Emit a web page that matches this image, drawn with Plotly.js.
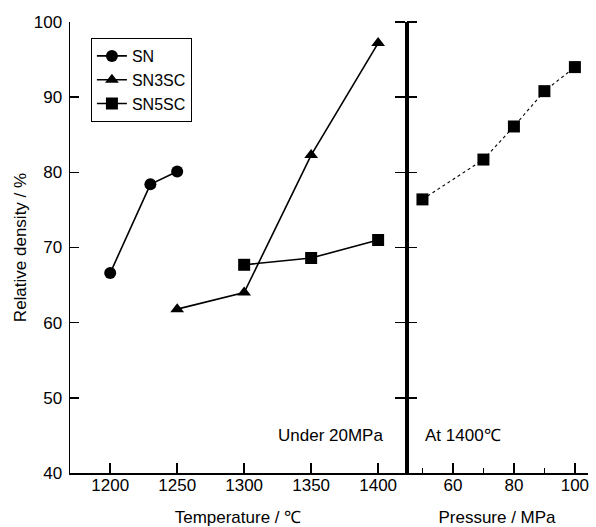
<!DOCTYPE html>
<html>
<head>
<meta charset="utf-8">
<script src="https://cdn.plot.ly/plotly-3.0.1.min.js"></script>
<style>html,body{margin:0;padding:0;background:#fff;}#chart{width:596px;height:527px;}</style>
</head>
<body>
<div id="chart"></div>
<script>
// Temperature series (under 20 MPa)
const snTemp = [1200, 1230, 1250];
const snDensity = [66.6, 78.4, 80.1];
const sn3scTemp = [1250, 1300, 1350, 1400];
const sn3scDensity = [61.8, 64.0, 82.3, 97.2];
const sn5scTemp = [1300, 1350, 1400];
const sn5scDensity = [67.7, 68.6, 71.0];
// Pressure series (at 1400 ℃)
const sn5scPressure = [50, 70, 80, 90, 100];
const sn5scPressureDensity = [76.4, 81.7, 86.1, 90.8, 94.0];

const seriesNames = ['SN', 'SN3SC', 'SN5SC'];
const tempTicks = [1200, 1250, 1300, 1350, 1400];
const pressureTicks = [60, 80, 100];
const pressureMinorTicks = [50, 70, 90];
const densityTicks = [40, 50, 60, 70, 80, 90, 100];

const FONT = 'Liberation Sans, Arial, Helvetica, sans-serif';
const FS = 17;
const split = 336 / 518;

const lineStyle = {color: '#000', width: 1.6};
const traces = [
  {x: snTemp, y: snDensity, name: seriesNames[0], mode: 'lines+markers', xaxis: 'x', yaxis: 'y',
   line: lineStyle, marker: {symbol: 'circle', size: 12, color: '#000'}},
  {x: sn3scTemp, y: sn3scDensity, name: seriesNames[1], mode: 'lines+markers', xaxis: 'x', yaxis: 'y',
   line: lineStyle, marker: {symbol: 'triangle-up', size: 12, color: '#000'}},
  {x: sn5scTemp, y: sn5scDensity, name: seriesNames[2], mode: 'lines+markers', xaxis: 'x', yaxis: 'y',
   line: lineStyle, marker: {symbol: 'square', size: 12, color: '#000'}},
  {x: sn5scPressure, y: sn5scPressureDensity, name: seriesNames[2], mode: 'lines+markers', xaxis: 'x2', yaxis: 'y',
   showlegend: false, line: {color: '#000', width: 1.1, dash: 'dot'}, marker: {symbol: 'square', size: 12, color: '#000'}}
];

const layout = {
  width: 596, height: 527,
  margin: {l: 70, r: 8, t: 22, b: 54},
  paper_bgcolor: '#fff', plot_bgcolor: '#fff',
  font: {family: FONT, size: FS, color: '#000'},
  showlegend: true,
  legend: {x: 0.04, y: 0.965, xanchor: 'left', yanchor: 'top', bordercolor: '#000', borderwidth: 1.2,
           bgcolor: '#fff', font: {family: FONT, size: 16, color: '#000'}, tracegroupgap: 0, itemwidth: 30},
  xaxis: {domain: [0, split], range: [1170, 1420.8], anchor: 'y', showgrid: false, zeroline: false,
          showline: true, linecolor: '#000', linewidth: 1.5, ticks: 'inside', ticklen: 10, tickwidth: 1.5,
          tickcolor: '#000', tickvals: tempTicks, ticklabelstandoff: -4,
          title: {text: 'Temperature / ℃', font: {family: FONT, size: FS}}},
  xaxis2: {domain: [split, 1], range: [44.6, 104.3], anchor: 'y', showgrid: false, zeroline: false,
           showline: true, linecolor: '#000', linewidth: 1.5, ticks: 'inside', ticklen: 10, tickwidth: 1.5,
           tickcolor: '#000', tickvals: pressureTicks, ticklabelstandoff: -4,
           minor: {tickvals: pressureMinorTicks, ticks: 'inside', ticklen: 5, tickwidth: 1.5, tickcolor: '#000'},
           title: {text: 'Pressure / MPa', font: {family: FONT, size: FS}}},
  yaxis: {range: [40, 100], showgrid: false, zeroline: false, showline: true, linecolor: '#000', linewidth: 1.5,
          ticks: 'inside', ticklen: 9, tickwidth: 1.5, tickcolor: '#000', tickvals: densityTicks, ticklabelstandoff: 3,
          title: {text: 'Relative density / %', font: {family: FONT, size: FS}}},
  yaxis2: {range: [40, 100], overlaying: 'y', anchor: 'free', position: split, side: 'left',
           showgrid: false, zeroline: false, showline: true, linecolor: '#000', linewidth: 3.5,
           ticks: 'outside', ticklen: 10, tickwidth: 1.5, tickcolor: '#000', tickvals: densityTicks.slice(1),
           showticklabels: false},
  yaxis3: {range: [40, 100], overlaying: 'y', anchor: 'free', position: split, side: 'right',
           showgrid: false, zeroline: false, showline: false,
           ticks: 'outside', ticklen: 10, tickwidth: 1.5, tickcolor: '#000', tickvals: densityTicks.slice(1),
           showticklabels: false},
  annotations: [
    {text: 'Under 20MPa', xref: 'x', yref: 'y', x: 1405, y: 45.0, xanchor: 'right', yanchor: 'middle',
     showarrow: false, font: {family: FONT, size: FS}},
    {text: 'At 1400℃', xref: 'x2', yref: 'y', x: 50.3, y: 45.0, xanchor: 'left', yanchor: 'middle',
     showarrow: false, font: {family: FONT, size: FS}}
  ]
};

// empty traces so the divider axes (yaxis2 / yaxis3) are drawn
traces.push({x: [null], y: [null], xaxis: 'x2', yaxis: 'y2', showlegend: false, hoverinfo: 'skip'});
traces.push({x: [null], y: [null], xaxis: 'x2', yaxis: 'y3', showlegend: false, hoverinfo: 'skip'});

Plotly.newPlot('chart', traces, layout, {displayModeBar: false, staticPlot: true});
</script>
</body>
</html>
